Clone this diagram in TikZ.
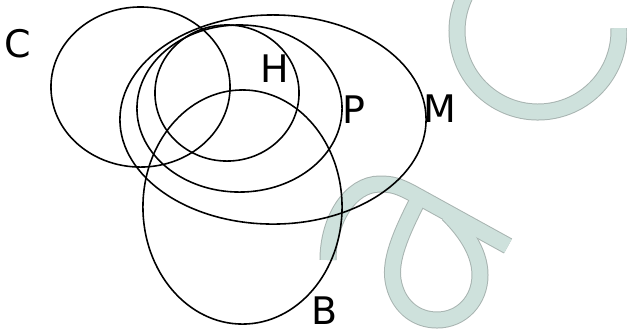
\documentclass[tikz,border=0pt]{standalone}
\usepackage{fontspec}
\setmainfont{DejaVu Sans}
\usetikzlibrary{shapes.geometric}

\definecolor{wmfill}{RGB}{206,225,220}
\definecolor{wmedge}{RGB}{168,180,177}

\begin{document}
\begin{tikzpicture}[
  x=0.01cm,
  y=-0.01cm,
  font=\fontsize{10.8}{12}\selectfont,
  set/.style={
    ellipse,
    draw=black,
    line width=0.45pt,
    inner sep=0pt
  },
  setlabel/.style={inner sep=0pt,text=black},
  wmedge/.style={draw=wmedge,line width=0.17cm},
  wmbody/.style={draw=wmfill,line width=0.15cm}
]
\useasboundingbox (0,0) rectangle (627,332);

% light watermark strokes behind the sets
\begin{scope}
  \clip (0,0) rectangle (627,332);
  \foreach \wm in {wmedge,wmbody} {
    \draw[\wm] (538,31) ++(220:81) arc[start angle=220,end angle=-2,radius=81];
    \draw[\wm] (328,260) .. controls (328,220) and (350,184) .. (380,184)
      .. controls (392,184) and (398,186) .. (410,192) -- (508,246);
    \draw[\wm] (418,200) .. controls (400,235) and (390,260) .. (393,280)
      .. controls (397,305) and (415,320) .. (437,320)
      .. controls (462,320) and (480,300) .. (480,275)
      .. controls (480,250) and (462,228) .. (448,214);
  }
\end{scope}

% the five sets
\node[set,minimum width=1.79cm,minimum height=1.60cm] (setC) at (140.5,87) {};
\node[set,minimum width=1.44cm,minimum height=1.36cm] (setH) at (227,93) {};
\node[set,minimum width=2.05cm,minimum height=1.67cm] (setP) at (239.5,108.5) {};
\node[set,minimum width=3.06cm,minimum height=2.09cm] (setM) at (273,119.5) {};
\node[set,minimum width=1.99cm,minimum height=2.34cm] (setB) at (242.5,207) {};

% their letters
\node[setlabel] (labC) at (18,44) {C};
\node[setlabel] (labH) at (275,69) {H};
\node[setlabel] (labP) at (354,110) {P};
\node[setlabel] (labM) at (440,109) {M};
\node[setlabel] (labB) at (325,311) {B};

\end{tikzpicture}
\end{document}
